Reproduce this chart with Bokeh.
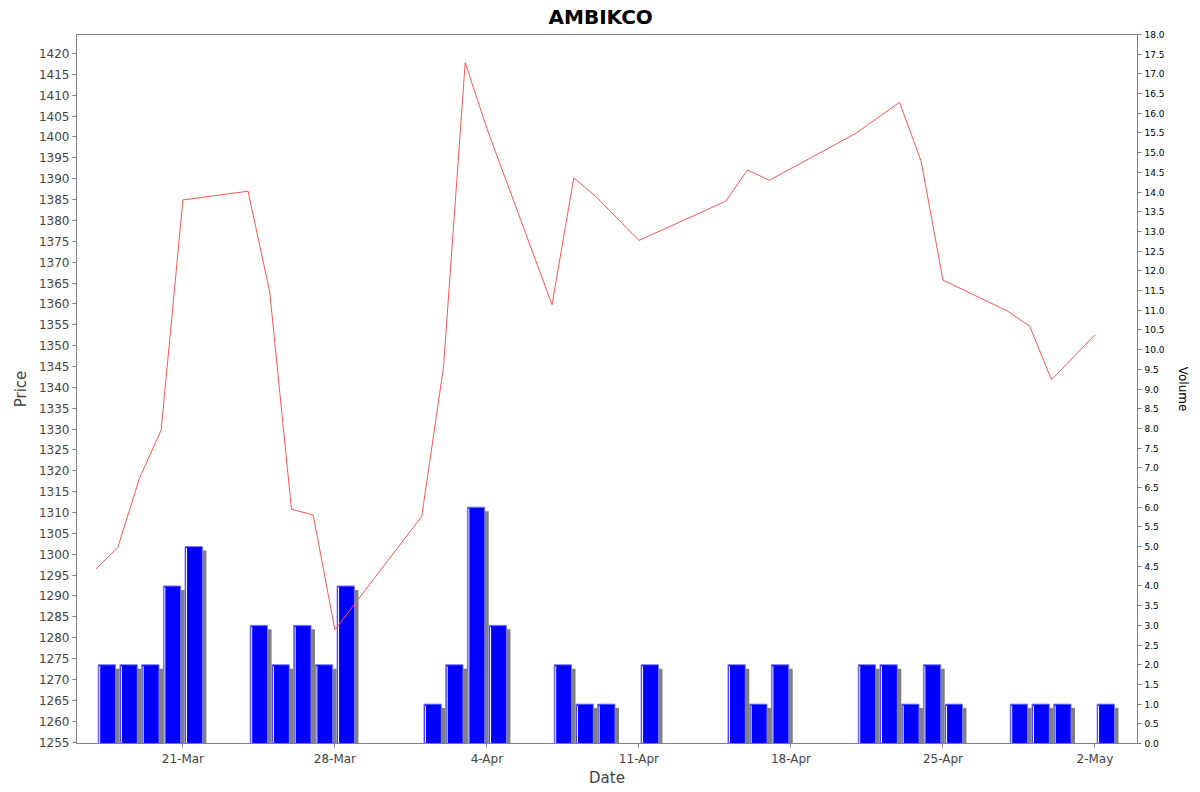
from datetime import date
from bokeh.plotting import figure
from bokeh.models import Range1d, LinearAxis, FixedTicker, NumeralTickFormatter, ColumnDataSource
from bokeh.embed import file_html
from bokeh.resources import INLINE

# ---- data ----
title_text = "AMBIKCO"
dates = ["2014-03-17", "2014-03-18", "2014-03-19", "2014-03-20", "2014-03-21",
         "2014-03-24", "2014-03-25", "2014-03-26", "2014-03-27", "2014-03-28",
         "2014-04-01", "2014-04-02", "2014-04-03", "2014-04-04",
         "2014-04-07", "2014-04-08", "2014-04-09", "2014-04-11",
         "2014-04-15", "2014-04-16", "2014-04-17",
         "2014-04-21", "2014-04-22", "2014-04-23", "2014-04-24", "2014-04-25",
         "2014-04-28", "2014-04-29", "2014-04-30", "2014-05-02"]
prices = [1296.5, 1301.6, 1318.2, 1329.8, 1384.9,
          1387.0, 1362.8, 1310.8, 1309.4, 1281.9,
          1309.1, 1344.8, 1417.8, 1402.0,
          1359.8, 1390.2, 1385.8, 1375.2,
          1384.6, 1392.1, 1389.6,
          1400.9, 1404.6, 1408.3, 1394.1, 1365.7,
          1358.2, 1354.6, 1341.8, 1352.6]
volumes = [2, 2, 2, 4, 5,
           3, 2, 3, 2, 4,
           1, 2, 6, 3,
           2, 1, 1, 2,
           2, 1, 2,
           2, 2, 1, 2, 1,
           1, 1, 1, 1]
tick_dates = ["2014-03-21", "2014-03-28", "2014-04-04", "2014-04-11",
              "2014-04-18", "2014-04-25", "2014-05-02"]
tick_labels = ["21-Mar", "28-Mar", "4-Apr", "11-Apr", "18-Apr", "25-Apr", "2-May"]
price_ticks = list(range(1255, 1421, 5))
volume_ticks = [i * 0.5 for i in range(37)]

base = date(2014, 3, 17)


def dnum(s):
    y, m, d = map(int, s.split("-"))
    return (date(y, m, d) - base).days


x = [dnum(s) for s in dates]

W, H = 1192, 790
BL, BR, BT, BB = 76, 53, 34, 47
x0, x1 = -0.9, 47.96
p = figure(width=W, height=H, output_backend="svg", toolbar_location=None,
           x_range=Range1d(x0, x1), y_range=Range1d(1254.65, 1424.55),
           min_border_left=BL, min_border_right=BR, min_border_top=BT, min_border_bottom=BB,
           title=title_text, background_fill_color="white", border_fill_color="white")
p.extra_y_ranges = {"vol": Range1d(0, 18)}

FW = W - BL - BR
FH = H - BT - BB
dpp = (x1 - x0) / FW      # days per pixel
vpp = 18.0 / FH           # volume per pixel

src = ColumnDataSource(dict(
    xc=[xi + 0.5 for xi in x],
    xs=[xi + 0.5 + 4 * dpp for xi in x],
    xw=[xi + 0.1 + 1.5 * dpp for xi in x],
    v=volumes,
    vs=[v - 4 * vpp for v in volumes],
    vw=[v - 1.5 * vpp for v in volumes],
    z=[0] * len(x),
))

p.vbar(x="xs", width=0.8, top="vs", bottom=0, source=src, y_range_name="vol",
       fill_color="#808080", line_color=None)
p.vbar(x="xc", width=0.8, top="v", bottom=0, source=src, y_range_name="vol",
       fill_color="#0000ff", line_color="#8080ff", line_width=1)
p.segment(x0="xw", y0="z", x1="xw", y1="vw", source=src, y_range_name="vol",
          line_color="white", line_width=1)

p.line(x, prices, line_color="#ff5555", line_width=1)

FONT = "DejaVu Sans"
p.title.text_font = FONT
p.title.text_font_size = "20px"
p.title.text_font_style = "bold"
p.title.text_color = "#000000"
p.title.align = "left"
p.title.offset = 472
p.title.standoff = 8
p.title.vertical_align = "top"

p.xgrid.visible = False
p.ygrid.visible = False
p.outline_line_color = "#808080"

xa = p.xaxis[0]
xa.ticker = FixedTicker(ticks=[dnum(t) for t in tick_dates])
xa.major_label_overrides = {dnum(t): lab for t, lab in zip(tick_dates, tick_labels)}
xa.axis_label = "Date"

ya = p.yaxis[0]
ya.ticker = FixedTicker(ticks=price_ticks)
ya.axis_label = "Price"

ra = LinearAxis(y_range_name="vol", ticker=FixedTicker(ticks=volume_ticks),
                formatter=NumeralTickFormatter(format="0.0"), axis_label="Volume")
p.add_layout(ra, "right")

for ax in (xa, ya, ra):
    ax.axis_line_color = "#808080"
    ax.major_tick_line_color = "#808080"
    ax.minor_tick_line_color = None
    ax.major_tick_out = 4
    ax.major_tick_in = 0
    ax.major_label_standoff = 3
    ax.major_label_text_font = FONT
    ax.axis_label_text_font = FONT
    ax.axis_label_text_font_style = "normal"

for ax in (xa, ya):
    ax.major_label_text_font_size = "12px"
    ax.major_label_text_color = "#444444"
    ax.axis_label_text_font_size = "15px"
    ax.axis_label_text_color = "#444444"

xa.major_label_standoff = 4
xa.axis_label_standoff = 0
ya.axis_label_standoff = 6

ra.major_label_text_font_size = "9px"
ra.major_label_text_color = "#000000"
ra.axis_label_text_font_size = "12px"
ra.axis_label_text_color = "#000000"
ra.axis_label_standoff = 8

open("out.html", "w").write(file_html(p, INLINE))
